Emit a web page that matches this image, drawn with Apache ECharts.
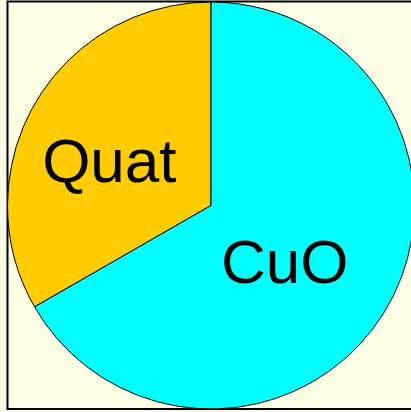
<!DOCTYPE html>
<html lang="en">
  <head>
    <meta charset="UTF-8" />
    <title>Pie</title>
    <style>
      html, body { margin: 0; padding: 0; background: #ffffe6; }
      #main { width: 411px; height: 412px; }
    </style>
  </head>
  <body>
    <div id="main"></div>
    <script src="https://cdn.jsdelivr.net/npm/echarts@6/dist/echarts.min.js"></script>
    <script>
      const categories = ["Quat", "CuO"];
      const values = [33.3, 66.7];
      const colors = ["#ffcc00", "#00ffff"];
      const labelOffsets = [[-11, 12], [-17, 8]];

      const myChart = echarts.init(document.getElementById("main"));
      const option = {
        backgroundColor: "#ffffe6",
        animation: false,
        graphic: [
          {
            type: "rect",
            shape: { x: 7.5, y: 1.5, width: 420, height: 407.5 },
            style: { fill: "none", stroke: "#000", lineWidth: 2 },
            z: 0
          }
        ],
        series: [
          {
            type: "pie",
            center: [211, 205.5],
            radius: 203.5,
            startAngle: 90,
            clockwise: false,
            z: 5,
            label: {
              position: "inside",
              fontFamily: "Liberation Sans, Arial, sans-serif",
              fontSize: 62,
              color: "#000"
            },
            labelLine: { show: false },
            itemStyle: { borderColor: "#000", borderWidth: 1 },
            emphasis: { disabled: true },
            data: categories.map((name, i) => ({
              name: name,
              value: values[i],
              itemStyle: { color: colors[i] },
              label: { offset: labelOffsets[i] }
            }))
          }
        ]
      };
      myChart.setOption(option);
    </script>
  </body>
</html>
